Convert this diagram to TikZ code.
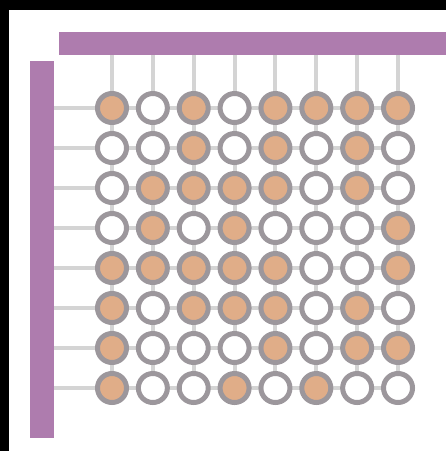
\documentclass[tikz,border=0pt]{standalone}
\begin{document}
\begin{tikzpicture}[x=1pt,y=-1pt,
  bar/.style={fill=barpurple,draw=none},
  wire/.style={draw=wiregray,line width=4pt},
  cell/.style={circle,draw=ringgray,line width=5pt,minimum size=29pt,inner sep=0pt,fill=white},
  on/.style={cell,fill=cellorange}]
\definecolor{barpurple}{HTML}{AE7CAE}
\definecolor{wiregray}{HTML}{D4D4D4}
\definecolor{ringgray}{HTML}{9C979C}
\definecolor{cellorange}{HTML}{E0AD88}
\useasboundingbox (0,0) rectangle (446,451);
\fill[white] (0,0) rectangle (446,451);
\fill[black] (0,0) rectangle (446,10);
\fill[black] (0,0) rectangle (9,451);
% bars
\node[bar,anchor=north west,minimum width=387pt,minimum height=23pt,inner sep=0pt] (top) at (59,32) {};
\node[bar,anchor=north west,minimum width=24pt,minimum height=377pt,inner sep=0pt] (left) at (30,61) {};
% positions
\foreach \r in {1,...,8}{
  \foreach \c in {1,...,8}{
    \coordinate (p-\r-\c) at ({112+40.86*(\c-1)},{108+40*(\r-1)});
  }
}
\foreach \c in {1,...,8}{
  \coordinate (t-\c) at ({112+40.86*(\c-1)},55);
  \draw[wire] (t-\c) -- (p-8-\c);
}
\foreach \r in {1,...,8}{
  \coordinate (l-\r) at (54,{108+40*(\r-1)});
  \draw[wire] (l-\r) -- (p-\r-8);
}
% cells
\foreach \row [count=\r] in {
  {1,0,1,0,1,1,1,1},
  {0,0,1,0,1,0,1,0},
  {0,1,1,1,1,0,1,0},
  {0,1,0,1,0,0,0,1},
  {1,1,1,1,1,0,0,1},
  {1,0,1,1,1,0,1,0},
  {1,0,0,0,1,0,1,1},
  {1,0,0,1,0,1,0,0}}{
  \foreach \v [count=\c] in \row {
    \ifnum\v=1
      \node[on] (n-\r-\c) at (p-\r-\c) {};
    \else
      \node[cell] (n-\r-\c) at (p-\r-\c) {};
    \fi
  }
}
\end{tikzpicture}
\end{document}
